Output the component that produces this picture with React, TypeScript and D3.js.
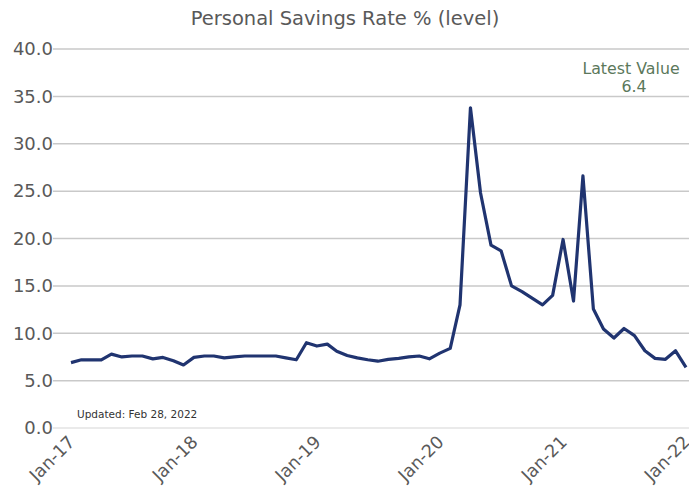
import React from "react";
import * as d3 from "d3";

const startYear = 2017;
const startMonth = 0;
const savingsRate: number[] = [
  6.9, 7.2, 7.2, 7.2, 7.8, 7.5, 7.6, 7.6, 7.3, 7.45, 7.1, 6.65,
  7.45, 7.6, 7.6, 7.4, 7.5, 7.6, 7.6, 7.6, 7.6, 7.4, 7.2, 9.0,
  8.65, 8.85, 8.1, 7.65, 7.4, 7.2, 7.05, 7.25, 7.35, 7.5, 7.6, 7.3,
  7.9, 8.4, 13.0, 33.8, 24.8, 19.3, 18.7, 15.0, 14.4, 13.7, 13.0, 14.0,
  19.9, 13.4, 26.6, 12.55, 10.45, 9.5, 10.5, 9.75, 8.15, 7.35, 7.25, 8.15,
  6.4,
];
const yTicks: number[] = [0, 5, 10, 15, 20, 25, 30, 35, 40];
const xTickLabels: string[] = ["Jan-17", "Jan-18", "Jan-19", "Jan-20", "Jan-21", "Jan-22"];
const title = "Personal Savings Rate % (level)";
const latestLabel = "Latest Value";
const updatedLabel = "Updated: Feb 28, 2022";

const W = 689;
const H = 500;

export default function App() {
  const dates = savingsRate.map((_, i) => new Date(startYear, startMonth + i, 1));
  const x = d3
    .scaleTime()
    .domain([dates[0], dates[dates.length - 1]])
    .range([71, 686]);
  const y = d3.scaleLinear().domain([0, 40]).range([428, 49]);
  const line = d3
    .line<number>()
    .x((_, i) => x(dates[i]))
    .y((d) => y(d));
  const tickDates = xTickLabels.map((_, i) => new Date(startYear + i, 0, 1));
  const latest = savingsRate[savingsRate.length - 1];
  const font = "Verdana, 'DejaVu Sans', sans-serif";

  return (
    <svg
      width={W}
      height={H}
      style={{ position: "absolute", left: 0, top: 0, background: "#fff" }}
      fontFamily={font}
    >
      <text x={345} y={25} textAnchor="middle" fontSize={19.5} fill="#595959">
        {title}
      </text>
      {yTicks.map((t) => (
        <g key={t}>
          <line
            x1={53}
            x2={689}
            y1={y(t)}
            y2={y(t)}
            stroke={t === 0 ? "#e3e3e3" : "#c9c9c9"}
            strokeWidth={1.5}
          />
          <text
            x={53}
            y={y(t)}
            dy="0.35em"
            textAnchor="end"
            fontSize={18}
            fill="#595959"
          >
            {t.toFixed(1)}
          </text>
        </g>
      ))}
      {tickDates.map((d, i) => (
        <text
          key={i}
          transform={`translate(${x(d) + 5},${443}) rotate(-45)`}
          textAnchor="end"
          fontSize={17.5}
          fill="#595959"
        >
          {xTickLabels[i]}
        </text>
      ))}
      <path
        d={line(savingsRate) || ""}
        fill="none"
        stroke="#203470"
        strokeWidth={3.2}
        strokeLinejoin="round"
      />
      <text x={631} y={74} textAnchor="middle" fontSize={15.8} fill="#5b785b">
        {latestLabel}
      </text>
      <text x={634} y={92} textAnchor="middle" fontSize={15.8} fill="#5b785b">
        {latest.toFixed(1)}
      </text>
      <text x={77} y={418} fontSize={10.5} fill="#333">
        {updatedLabel}
      </text>
    </svg>
  );
}
